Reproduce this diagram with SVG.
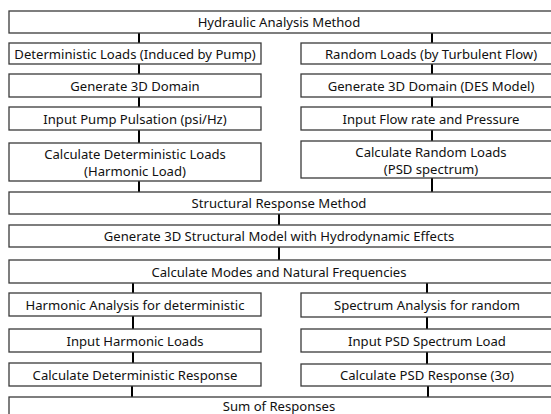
<svg xmlns="http://www.w3.org/2000/svg" width="551" height="414" viewBox="0 0 551 414">
  <style>
    .box { fill: #ffffff; stroke: #3a3a3a; stroke-width: 1.3; }
    .lbl { font-family: "Noto Sans", "Open Sans", sans-serif; font-size: 13.1px; fill: #111111; text-anchor: middle; dominant-baseline: central; }
    .link { stroke: #000000; stroke-width: 2; fill: none; }
  </style>
  <rect width="551" height="414" fill="#ffffff"/>

  <g id="connectors">
    <line class="link" x1="139" y1="33" x2="139" y2="43"/>
    <line class="link" x1="432" y1="33" x2="432" y2="43"/>
    <line class="link" x1="139" y1="64" x2="139" y2="74"/>
    <line class="link" x1="432" y1="64" x2="432" y2="74"/>
    <line class="link" x1="139" y1="97" x2="139" y2="107"/>
    <line class="link" x1="432" y1="97" x2="432" y2="107"/>
    <line class="link" x1="139" y1="130" x2="139" y2="143"/>
    <line class="link" x1="432" y1="130" x2="432" y2="141"/>
    <line class="link" x1="139" y1="181" x2="139" y2="192"/>
    <line class="link" x1="432" y1="178" x2="432" y2="192"/>
    <line class="link" x1="279" y1="214" x2="279" y2="225"/>
    <line class="link" x1="279" y1="247" x2="279" y2="260"/>
    <line class="link" x1="133" y1="283" x2="133" y2="293"/>
    <line class="link" x1="427" y1="283" x2="427" y2="293"/>
    <line class="link" x1="133" y1="316" x2="133" y2="329"/>
    <line class="link" x1="427" y1="317" x2="427" y2="329"/>
    <line class="link" x1="133" y1="352" x2="133" y2="363"/>
    <line class="link" x1="427" y1="352" x2="427" y2="364"/>
    <line class="link" x1="132" y1="386" x2="132" y2="397"/>
    <line class="link" x1="428" y1="386" x2="428" y2="397"/>
  </g>

  <g id="hydraulic-method">
    <rect class="box" x="9" y="11" width="560" height="22"/>
    <text class="lbl" x="279" y="22">Hydraulic Analysis Method</text>
  </g>
  <g id="deterministic-loads">
    <rect class="box" x="9" y="43" width="252" height="21"/>
    <text class="lbl" x="135" y="53.5">Deterministic Loads (Induced by Pump)</text>
  </g>
  <g id="random-loads">
    <rect class="box" x="301" y="43" width="260" height="21"/>
    <text class="lbl" x="431" y="53.5">Random Loads (by Turbulent Flow)</text>
  </g>
  <g id="domain-left">
    <rect class="box" x="9" y="74" width="252" height="23"/>
    <text class="lbl" x="135" y="85.5">Generate 3D Domain</text>
  </g>
  <g id="domain-right">
    <rect class="box" x="301" y="74" width="260" height="23"/>
    <text class="lbl" x="431" y="85.5">Generate 3D Domain (DES Model)</text>
  </g>
  <g id="pump-pulsation">
    <rect class="box" x="9" y="107" width="252" height="23"/>
    <text class="lbl" x="135" y="118.5">Input Pump Pulsation (psi/Hz)</text>
  </g>
  <g id="flow-pressure">
    <rect class="box" x="301" y="107" width="260" height="23"/>
    <text class="lbl" x="431" y="118.5">Input Flow rate and Pressure</text>
  </g>
  <g id="calc-deterministic-loads">
    <rect class="box" x="9" y="143" width="252" height="38"/>
    <text class="lbl" x="135" y="154">Calculate Deterministic Loads</text>
    <text class="lbl" x="135" y="171">(Harmonic Load)</text>
  </g>
  <g id="calc-random-loads">
    <rect class="box" x="301" y="141" width="260" height="37"/>
    <text class="lbl" x="431" y="151.5">Calculate Random Loads</text>
    <text class="lbl" x="431" y="168.5">(PSD spectrum)</text>
  </g>
  <g id="structural-method">
    <rect class="box" x="9" y="192" width="560" height="22"/>
    <text class="lbl" x="279" y="203">Structural Response Method</text>
  </g>
  <g id="structural-model">
    <rect class="box" x="9" y="225" width="560" height="22"/>
    <text class="lbl" x="279" y="236">Generate 3D Structural Model with Hydrodynamic Effects</text>
  </g>
  <g id="modes-frequencies">
    <rect class="box" x="9" y="260" width="560" height="23"/>
    <text class="lbl" x="279" y="271.5">Calculate Modes and Natural Frequencies</text>
  </g>
  <g id="harmonic-analysis">
    <rect class="box" x="9" y="293" width="252" height="23"/>
    <text class="lbl" x="135" y="304.5">Harmonic Analysis for deterministic</text>
  </g>
  <g id="spectrum-analysis">
    <rect class="box" x="301" y="293" width="260" height="24"/>
    <text class="lbl" x="427" y="305">Spectrum Analysis for random</text>
  </g>
  <g id="harmonic-loads">
    <rect class="box" x="9" y="329" width="252" height="23"/>
    <text class="lbl" x="135" y="340.5">Input Harmonic Loads</text>
  </g>
  <g id="psd-load">
    <rect class="box" x="301" y="329" width="260" height="23"/>
    <text class="lbl" x="427" y="340.5">Input PSD Spectrum Load</text>
  </g>
  <g id="deterministic-response">
    <rect class="box" x="9" y="363" width="252" height="23"/>
    <text class="lbl" x="135" y="374.5">Calculate Deterministic Response</text>
  </g>
  <g id="psd-response">
    <rect class="box" x="301" y="364" width="260" height="22"/>
    <text class="lbl" x="427" y="375">Calculate PSD Response (3σ)</text>
  </g>
  <g id="sum-responses">
    <rect class="box" x="9" y="397" width="560" height="30"/>
    <text class="lbl" x="279" y="405.5">Sum of Responses</text>
  </g>
</svg>
